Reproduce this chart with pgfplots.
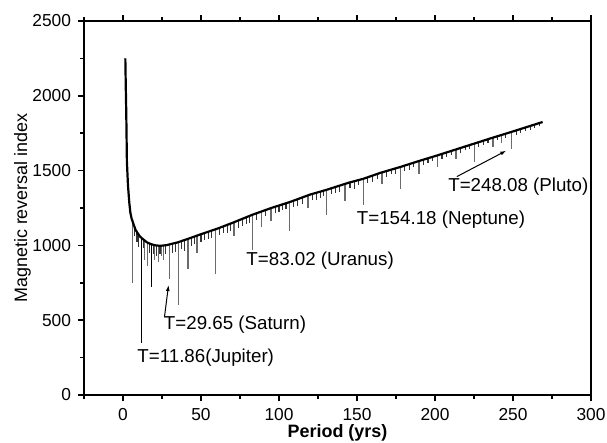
\documentclass[border=0pt]{standalone}
\usepackage{fontspec}
\setmainfont{Liberation Sans}
\usepackage{pgfplots}
\usepackage{pgfplotstable}
\pgfplotsset{compat=1.18}
\usetikzlibrary{arrows.meta}

% smooth part of the index curve
\pgfplotstableread{
x y
1.5 2250
1.8 2050
2.1 1880
2.5 1560
3.2 1400
4.0 1290
4.7 1220
5.5 1180
6.8 1140
8.0 1105
9.5 1080
11.0 1058
13.0 1040
15.4 1020
18.0 1008
21.0 1000
24.0 997
28.0 1002
35.0 1020
42.0 1045
50.0 1075
60.0 1110
70.0 1150
83.0 1205
95.0 1250
107.0 1290
120.0 1340
130.0 1370
145.0 1420
154.0 1445
165.0 1485
178.0 1525
190.0 1565
201.0 1600
213.0 1640
225.0 1680
237.0 1720
248.5 1757
260.0 1795
269.0 1825
}\curve

% long dips (x, curve value, bottom of dip)
\pgfplotstableread{
x y lo
6.3 1150 750
14.0 1030 900
15.5 1020 860
20.0 1003 900
22.8 998 890
24.5 997 930
26.0 998 900
29.65 1004 775
35.58 1021 600
41.7 1043 845
47.44 1064 950
59.3 1107 810
71.2 1152 1060
83.02 1205 970
88.95 1226 1125
94.9 1248 1160
106.7 1289 1095
118.6 1335 1250
130.5 1370 1205
142.3 1410 1300
154.18 1445 1270
166.0 1489 1410
177.9 1524 1375
189.8 1564 1480
201.6 1601 1525
213.5 1641 1580
225.3 1680 1560
237.2 1720 1660
242.5 1735 1682
249.1 1757 1642
}\bigdips

\pgfplotstableread{
x y lo
11.86 1050 345
18.5 1008 720
}\blackdips

% short dips along the curve
\pgfplotstableread{
x y lo
7.5 1120 1060
9.0 1090 1020
10.2 1068 990
13.0 1040 980
16.8 1014 950
19.3 1005 940
21.5 1000 930
23.7 997 940
27.5 1000 945
31.5 1009 950
33.5 1015 955
37.5 1028 975
39.5 1035 960
44.0 1052 995
46.0 1060 1010
50.0 1075 1020
52.5 1083 1035
55.0 1092 1045
57.0 1099 1050
62.0 1118 1070
64.5 1126 1080
67.0 1135 1085
69.0 1145 1095
74.0 1164 1115
76.5 1175 1130
79.0 1186 1140
81.0 1195 1150
85.5 1213 1170
91.5 1236 1195
97.5 1258 1215
100.0 1266 1225
102.5 1275 1235
104.5 1282 1245
109.5 1300 1255
112.0 1310 1265
115.0 1321 1280
121.5 1343 1305
124.0 1350 1305
126.5 1358 1320
128.5 1364 1330
133.5 1380 1345
136.0 1389 1350
139.0 1399 1360
145.5 1421 1385
148.3 1428 1380
151.0 1436 1405
157.0 1454 1420
160.0 1467 1425
163.0 1478 1445
169.0 1498 1460
172.0 1506 1475
174.5 1513 1480
180.5 1533 1500
183.5 1543 1505
186.5 1553 1525
192.5 1572 1540
195.5 1582 1550
198.5 1591 1565
204.5 1611 1580
207.5 1621 1590
210.5 1630 1605
216.5 1651 1620
219.5 1661 1635
222.0 1669 1645
228.0 1688 1660
231.0 1698 1670
234.0 1707 1685
240.0 1728 1705
245.0 1744 1720
252.0 1766 1740
255.0 1775 1750
258.0 1785 1765
261.0 1795 1770
264.0 1806 1785
267.0 1817 1800
}\smalldips

\begin{document}
\begin{tikzpicture}
\begin{axis}[
    at={(0,0)}, anchor=south west,
    scale only axis, width=253.5bp, height=187bp,
    xmin=-25, xmax=300, ymin=0, ymax=2500,
    xtick={0,50,...,300}, minor xtick={-25,25,...,275},
    ytick={0,500,...,2500}, minor ytick={250,750,...,2250},
    xtick pos=both, ytick pos=left, xticklabel pos=lower,
    tick align=outside,
    major tick length=3bp, minor tick length=2bp,
    every tick/.style={black, line width=0.8bp},
    axis line style={line width=1bp},
    /pgf/number format/assume math mode=true,
    /pgf/number format/1000 sep={},
    tick label style={font=\fontsize{8.7}{10}\selectfont},
    xlabel={\textbf{Period (yrs)}},
    ylabel={Magnetic reversal index},
    label style={font=\fontsize{9}{11}\selectfont},
    xlabel style={at={(axis description cs:0.5,0)}, anchor=center, yshift=-19bp},
    ylabel style={at={([xshift=-30.8bp]axis description cs:0,0.5)}, anchor=center},
  ]
  \addplot[draw=none, mark=none,
    error bars/.cd, y dir=minus, y explicit, error mark=none,
    error bar style={line width=0.6bp, draw=black!58}]
    table[x=x, y=y, y error minus expr=\thisrow{y}-\thisrow{lo}] {\bigdips};
  \addplot[draw=none, mark=none,
    error bars/.cd, y dir=minus, y explicit, error mark=none,
    error bar style={line width=0.6bp, draw=black}]
    table[x=x, y=y, y error minus expr=\thisrow{y}-\thisrow{lo}] {\blackdips};
  \addplot[draw=none, mark=none,
    error bars/.cd, y dir=minus, y explicit, error mark=none,
    error bar style={line width=0.55bp, draw=black!80}]
    table[x=x, y=y, y error minus expr=\thisrow{y}-\thisrow{lo}] {\smalldips};
  \addplot[black, line width=1.1bp, mark=none] table[x=x, y=y] {\curve};

  \begin{scope}[every node/.style={anchor=west, inner sep=0pt, font=\fontsize{9.4}{11}\selectfont}]
    \node at (axis cs:9,252) {T=11.86(Jupiter)};
    \node at (axis cs:26,472) {T=29.65 (Saturn)};
    \node at (axis cs:78.9,899) {T=83.02 (Uranus)};
    \node at (axis cs:149.7,1170) {T=154.18 (Neptune)};
    \node at (axis cs:208.3,1392) {T=248.08 (Pluto)};
  \end{scope}
  \draw[line width=0.5bp, -{Latex[length=3bp, width=2bp]}] (axis cs:26.6,523) -- (axis cs:29.2,735);
  \draw[line width=0.5bp, -{Latex[length=3bp, width=2bp]}] (axis cs:214,1460) -- (axis cs:245.7,1633);
\end{axis}
\pgfresetboundingbox
\path[use as bounding box] (-42bp,-24bp) rectangle (261.5bp,197.5bp);
\end{tikzpicture}
\end{document}
